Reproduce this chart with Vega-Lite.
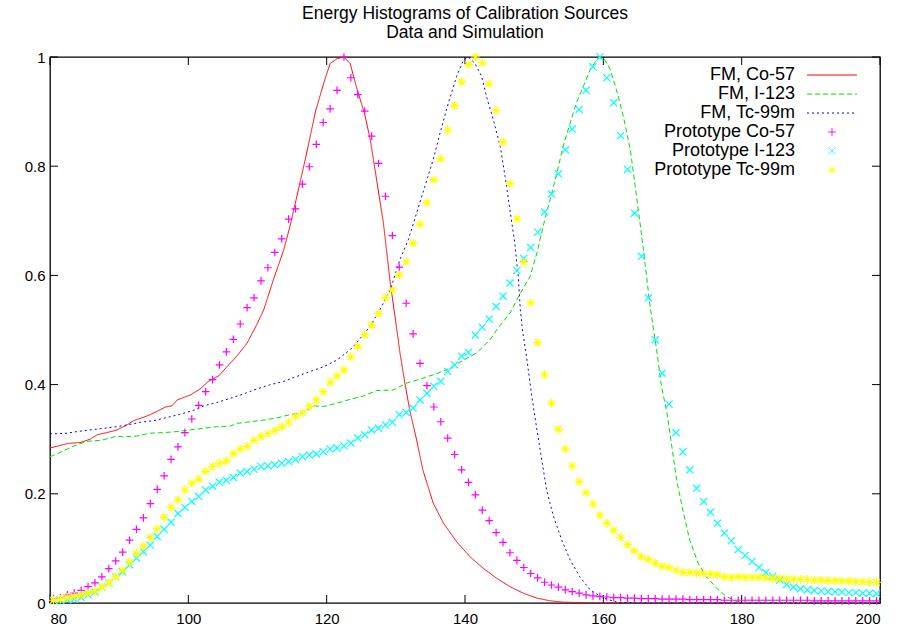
{
  "$schema": "https://vega.github.io/schema/vega-lite/v6.json",
  "width": 830,
  "height": 546,
  "autosize": {"type": "none"},
  "padding": {"left": 50, "top": 57, "right": 19, "bottom": 31},
  "background": "white",
  "title": {
    "text": ["Energy Histograms of Calibration Sources", "Data and Simulation"],
    "font": "Liberation Sans",
    "fontSize": 17.5,
    "fontWeight": "normal",
    "color": "black",
    "anchor": "middle",
    "frame": "group",
    "lineHeight": 19,
    "offset": 8.5
  },
  "config": {
    "view": {"stroke": "black", "strokeWidth": 1.3},
    "axis": {
      "domain": false,
      "grid": false,
      "ticks": false,
      "title": null,
      "labelFont": "Liberation Sans",
      "labelFontSize": 15,
      "labelColor": "black"
    },
    "legend": {
      "labelFont": "Liberation Sans",
      "labelFontSize": 18,
      "labelColor": "black",
      "padding": 0
    }
  },
  "datasets": {
    "xticks": [{"v":80},{"v":100},{"v":120},{"v":140},{"v":160},{"v":180},{"v":200}],
    "yticks": [{"v":0},{"v":0.2},{"v":0.4},{"v":0.6},{"v":0.8},{"v":1}],
    "fm": [
      {"s":"FM, Co-57","x":80,"y":0.284},{"s":"FM, Co-57","x":81,"y":0.287},{"s":"FM, Co-57","x":82.5,"y":0.292},{"s":"FM, Co-57","x":84.4,"y":0.294},{"s":"FM, Co-57","x":85.8,"y":0.300},{"s":"FM, Co-57","x":86.8,"y":0.308},{"s":"FM, Co-57","x":88.2,"y":0.312},{"s":"FM, Co-57","x":89.7,"y":0.317},{"s":"FM, Co-57","x":91.1,"y":0.326},{"s":"FM, Co-57","x":92.1,"y":0.334},{"s":"FM, Co-57","x":93.5,"y":0.340},{"s":"FM, Co-57","x":94.5,"y":0.345},{"s":"FM, Co-57","x":95.5,"y":0.351},{"s":"FM, Co-57","x":96.7,"y":0.359},{"s":"FM, Co-57","x":97.6,"y":0.361},{"s":"FM, Co-57","x":98.4,"y":0.372},{"s":"FM, Co-57","x":100.3,"y":0.381},{"s":"FM, Co-57","x":101.7,"y":0.392},{"s":"FM, Co-57","x":102.9,"y":0.406},{"s":"FM, Co-57","x":104.4,"y":0.416},{"s":"FM, Co-57","x":105.6,"y":0.433},{"s":"FM, Co-57","x":107,"y":0.452},{"s":"FM, Co-57","x":108.5,"y":0.476},{"s":"FM, Co-57","x":109.9,"y":0.510},{"s":"FM, Co-57","x":110.9,"y":0.537},{"s":"FM, Co-57","x":112.3,"y":0.592},{"s":"FM, Co-57","x":113.8,"y":0.647},{"s":"FM, Co-57","x":114.7,"y":0.690},{"s":"FM, Co-57","x":115.7,"y":0.745},{"s":"FM, Co-57","x":116.9,"y":0.812},{"s":"FM, Co-57","x":118.4,"y":0.901},{"s":"FM, Co-57","x":119.6,"y":0.953},{"s":"FM, Co-57","x":120.5,"y":0.988},{"s":"FM, Co-57","x":121.5,"y":0.997},{"s":"FM, Co-57","x":122.5,"y":1.0},{"s":"FM, Co-57","x":123.4,"y":0.988},{"s":"FM, Co-57","x":124.3,"y":0.945},{"s":"FM, Co-57","x":125.5,"y":0.895},{"s":"FM, Co-57","x":126.3,"y":0.849},{"s":"FM, Co-57","x":127.1,"y":0.785},{"s":"FM, Co-57","x":128.2,"y":0.696},{"s":"FM, Co-57","x":129.2,"y":0.586},{"s":"FM, Co-57","x":130.1,"y":0.505},{"s":"FM, Co-57","x":130.6,"y":0.458},{"s":"FM, Co-57","x":131.3,"y":0.403},{"s":"FM, Co-57","x":132,"y":0.354},{"s":"FM, Co-57","x":133,"y":0.299},{"s":"FM, Co-57","x":133.9,"y":0.244},{"s":"FM, Co-57","x":135.4,"y":0.183},{"s":"FM, Co-57","x":136.9,"y":0.146},{"s":"FM, Co-57","x":138.8,"y":0.112},{"s":"FM, Co-57","x":140.7,"y":0.085},{"s":"FM, Co-57","x":142.6,"y":0.064},{"s":"FM, Co-57","x":144.6,"y":0.045},{"s":"FM, Co-57","x":146.5,"y":0.030},{"s":"FM, Co-57","x":148.4,"y":0.018},{"s":"FM, Co-57","x":150.4,"y":0.009},{"s":"FM, Co-57","x":152.3,"y":0.004},{"s":"FM, Co-57","x":154.2,"y":0.0015},{"s":"FM, Co-57","x":158,"y":0.0005},{"s":"FM, Co-57","x":165,"y":0},{"s":"FM, Co-57","x":200,"y":0},
      {"s":"FM, I-123","x":80,"y":0.268},{"s":"FM, I-123","x":81,"y":0.273},{"s":"FM, I-123","x":82.5,"y":0.282},{"s":"FM, I-123","x":83.9,"y":0.290},{"s":"FM, I-123","x":85.3,"y":0.296},{"s":"FM, I-123","x":87.3,"y":0.298},{"s":"FM, I-123","x":88.7,"y":0.302},{"s":"FM, I-123","x":89.7,"y":0.306},{"s":"FM, I-123","x":90.6,"y":0.304},{"s":"FM, I-123","x":92.6,"y":0.306},{"s":"FM, I-123","x":94.5,"y":0.311},{"s":"FM, I-123","x":96.4,"y":0.312},{"s":"FM, I-123","x":98.4,"y":0.314},{"s":"FM, I-123","x":100.3,"y":0.317},{"s":"FM, I-123","x":102.2,"y":0.320},{"s":"FM, I-123","x":104.1,"y":0.323},{"s":"FM, I-123","x":106.1,"y":0.324},{"s":"FM, I-123","x":107,"y":0.329},{"s":"FM, I-123","x":109,"y":0.332},{"s":"FM, I-123","x":110.9,"y":0.335},{"s":"FM, I-123","x":112.8,"y":0.339},{"s":"FM, I-123","x":114.7,"y":0.345},{"s":"FM, I-123","x":116.7,"y":0.349},{"s":"FM, I-123","x":118.1,"y":0.361},{"s":"FM, I-123","x":119.6,"y":0.360},{"s":"FM, I-123","x":121.5,"y":0.366},{"s":"FM, I-123","x":123.4,"y":0.373},{"s":"FM, I-123","x":125.3,"y":0.379},{"s":"FM, I-123","x":127.2,"y":0.389},{"s":"FM, I-123","x":129.6,"y":0.390},{"s":"FM, I-123","x":131.6,"y":0.403},{"s":"FM, I-123","x":133.5,"y":0.410},{"s":"FM, I-123","x":135.9,"y":0.420},{"s":"FM, I-123","x":137.8,"y":0.430},{"s":"FM, I-123","x":139.8,"y":0.445},{"s":"FM, I-123","x":141.7,"y":0.458},{"s":"FM, I-123","x":143.6,"y":0.482},{"s":"FM, I-123","x":144.8,"y":0.504},{"s":"FM, I-123","x":146.5,"y":0.531},{"s":"FM, I-123","x":147.9,"y":0.565},{"s":"FM, I-123","x":149.4,"y":0.598},{"s":"FM, I-123","x":150.4,"y":0.641},{"s":"FM, I-123","x":151.3,"y":0.690},{"s":"FM, I-123","x":152.3,"y":0.739},{"s":"FM, I-123","x":153.3,"y":0.788},{"s":"FM, I-123","x":154.2,"y":0.837},{"s":"FM, I-123","x":155.2,"y":0.879},{"s":"FM, I-123","x":156.1,"y":0.916},{"s":"FM, I-123","x":157.1,"y":0.946},{"s":"FM, I-123","x":158.1,"y":0.977},{"s":"FM, I-123","x":159.3,"y":1.0},{"s":"FM, I-123","x":160.2,"y":0.995},{"s":"FM, I-123","x":161,"y":0.977},{"s":"FM, I-123","x":161.9,"y":0.940},{"s":"FM, I-123","x":162.9,"y":0.891},{"s":"FM, I-123","x":163.9,"y":0.830},{"s":"FM, I-123","x":164.8,"y":0.745},{"s":"FM, I-123","x":165.8,"y":0.647},{"s":"FM, I-123","x":166.7,"y":0.549},{"s":"FM, I-123","x":167.7,"y":0.464},{"s":"FM, I-123","x":168.4,"y":0.397},{"s":"FM, I-123","x":169.2,"y":0.348},{"s":"FM, I-123","x":169.9,"y":0.287},{"s":"FM, I-123","x":170.6,"y":0.225},{"s":"FM, I-123","x":171.6,"y":0.164},{"s":"FM, I-123","x":172.5,"y":0.115},{"s":"FM, I-123","x":173.7,"y":0.073},{"s":"FM, I-123","x":174.9,"y":0.048},{"s":"FM, I-123","x":176.4,"y":0.027},{"s":"FM, I-123","x":177.8,"y":0.012},{"s":"FM, I-123","x":179.3,"y":0.0025},{"s":"FM, I-123","x":181,"y":0},{"s":"FM, I-123","x":200,"y":0},
      {"s":"FM, Tc-99m","x":80,"y":0.310},{"s":"FM, Tc-99m","x":81,"y":0.310},{"s":"FM, Tc-99m","x":82.5,"y":0.311},{"s":"FM, Tc-99m","x":83.9,"y":0.314},{"s":"FM, Tc-99m","x":85.8,"y":0.317},{"s":"FM, Tc-99m","x":87.8,"y":0.320},{"s":"FM, Tc-99m","x":89.7,"y":0.323},{"s":"FM, Tc-99m","x":91.1,"y":0.326},{"s":"FM, Tc-99m","x":93.1,"y":0.331},{"s":"FM, Tc-99m","x":95,"y":0.334},{"s":"FM, Tc-99m","x":97,"y":0.340},{"s":"FM, Tc-99m","x":98.9,"y":0.346},{"s":"FM, Tc-99m","x":100.8,"y":0.353},{"s":"FM, Tc-99m","x":102.2,"y":0.361},{"s":"FM, Tc-99m","x":104.1,"y":0.367},{"s":"FM, Tc-99m","x":106.1,"y":0.375},{"s":"FM, Tc-99m","x":108,"y":0.383},{"s":"FM, Tc-99m","x":109.9,"y":0.392},{"s":"FM, Tc-99m","x":111.9,"y":0.400},{"s":"FM, Tc-99m","x":113.8,"y":0.406},{"s":"FM, Tc-99m","x":115.7,"y":0.415},{"s":"FM, Tc-99m","x":117.6,"y":0.424},{"s":"FM, Tc-99m","x":119.6,"y":0.433},{"s":"FM, Tc-99m","x":121.5,"y":0.445},{"s":"FM, Tc-99m","x":123.4,"y":0.464},{"s":"FM, Tc-99m","x":124.3,"y":0.476},{"s":"FM, Tc-99m","x":126.3,"y":0.507},{"s":"FM, Tc-99m","x":127.7,"y":0.537},{"s":"FM, Tc-99m","x":129.2,"y":0.574},{"s":"FM, Tc-99m","x":130.6,"y":0.629},{"s":"FM, Tc-99m","x":131.8,"y":0.665},{"s":"FM, Tc-99m","x":133,"y":0.714},{"s":"FM, Tc-99m","x":134.2,"y":0.763},{"s":"FM, Tc-99m","x":135.4,"y":0.812},{"s":"FM, Tc-99m","x":136.4,"y":0.861},{"s":"FM, Tc-99m","x":137.6,"y":0.916},{"s":"FM, Tc-99m","x":138.8,"y":0.965},{"s":"FM, Tc-99m","x":139.8,"y":0.995},{"s":"FM, Tc-99m","x":140.5,"y":1.0},{"s":"FM, Tc-99m","x":141.4,"y":0.989},{"s":"FM, Tc-99m","x":142.4,"y":0.965},{"s":"FM, Tc-99m","x":143.1,"y":0.928},{"s":"FM, Tc-99m","x":144.1,"y":0.885},{"s":"FM, Tc-99m","x":145.1,"y":0.836},{"s":"FM, Tc-99m","x":145.8,"y":0.781},{"s":"FM, Tc-99m","x":146.5,"y":0.720},{"s":"FM, Tc-99m","x":147.2,"y":0.659},{"s":"FM, Tc-99m","x":147.7,"y":0.598},{"s":"FM, Tc-99m","x":148,"y":0.537},{"s":"FM, Tc-99m","x":148.3,"y":0.500},{"s":"FM, Tc-99m","x":148.9,"y":0.451},{"s":"FM, Tc-99m","x":149.6,"y":0.384},{"s":"FM, Tc-99m","x":150.4,"y":0.317},{"s":"FM, Tc-99m","x":151.1,"y":0.262},{"s":"FM, Tc-99m","x":151.8,"y":0.207},{"s":"FM, Tc-99m","x":152.8,"y":0.158},{"s":"FM, Tc-99m","x":154,"y":0.115},{"s":"FM, Tc-99m","x":155.2,"y":0.079},{"s":"FM, Tc-99m","x":156.6,"y":0.048},{"s":"FM, Tc-99m","x":158.1,"y":0.024},{"s":"FM, Tc-99m","x":160,"y":0.009},{"s":"FM, Tc-99m","x":162,"y":0.0015},{"s":"FM, Tc-99m","x":165,"y":0},{"s":"FM, Tc-99m","x":200,"y":0}
    ],
    "proto": [
      {"s":"Prototype Co-57","x":80.5,"y":0.008},{"s":"Prototype Co-57","x":81.5,"y":0.010},{"s":"Prototype Co-57","x":82.5,"y":0.015},{"s":"Prototype Co-57","x":83.5,"y":0.018},{"s":"Prototype Co-57","x":84.5,"y":0.023},{"s":"Prototype Co-57","x":85.5,"y":0.030},{"s":"Prototype Co-57","x":86.5,"y":0.037},{"s":"Prototype Co-57","x":87.5,"y":0.048},{"s":"Prototype Co-57","x":88.5,"y":0.063},{"s":"Prototype Co-57","x":89.5,"y":0.077},{"s":"Prototype Co-57","x":90.5,"y":0.093},{"s":"Prototype Co-57","x":91.5,"y":0.115},{"s":"Prototype Co-57","x":92.5,"y":0.135},{"s":"Prototype Co-57","x":93.5,"y":0.156},{"s":"Prototype Co-57","x":94.5,"y":0.182},{"s":"Prototype Co-57","x":95.5,"y":0.208},{"s":"Prototype Co-57","x":96.5,"y":0.233},{"s":"Prototype Co-57","x":97.5,"y":0.263},{"s":"Prototype Co-57","x":98.5,"y":0.286},{"s":"Prototype Co-57","x":99.5,"y":0.312},{"s":"Prototype Co-57","x":100.5,"y":0.337},{"s":"Prototype Co-57","x":101.5,"y":0.362},{"s":"Prototype Co-57","x":102.5,"y":0.387},{"s":"Prototype Co-57","x":103.5,"y":0.409},{"s":"Prototype Co-57","x":104.5,"y":0.436},{"s":"Prototype Co-57","x":105.5,"y":0.460},{"s":"Prototype Co-57","x":106.5,"y":0.483},{"s":"Prototype Co-57","x":107.5,"y":0.511},{"s":"Prototype Co-57","x":108.5,"y":0.541},{"s":"Prototype Co-57","x":109.5,"y":0.559},{"s":"Prototype Co-57","x":110.5,"y":0.590},{"s":"Prototype Co-57","x":111.5,"y":0.614},{"s":"Prototype Co-57","x":112.5,"y":0.642},{"s":"Prototype Co-57","x":113.5,"y":0.667},{"s":"Prototype Co-57","x":114.5,"y":0.703},{"s":"Prototype Co-57","x":115.5,"y":0.722},{"s":"Prototype Co-57","x":116.5,"y":0.767},{"s":"Prototype Co-57","x":117.5,"y":0.799},{"s":"Prototype Co-57","x":118.5,"y":0.840},{"s":"Prototype Co-57","x":119.5,"y":0.880},{"s":"Prototype Co-57","x":120.5,"y":0.905},{"s":"Prototype Co-57","x":121.5,"y":0.939},{"s":"Prototype Co-57","x":122.5,"y":1.0},{"s":"Prototype Co-57","x":123.5,"y":0.962},{"s":"Prototype Co-57","x":124.5,"y":0.931},{"s":"Prototype Co-57","x":125.5,"y":0.901},{"s":"Prototype Co-57","x":126.5,"y":0.855},{"s":"Prototype Co-57","x":127.5,"y":0.805},{"s":"Prototype Co-57","x":128.5,"y":0.745},{"s":"Prototype Co-57","x":129.5,"y":0.673},{"s":"Prototype Co-57","x":130.5,"y":0.615},{"s":"Prototype Co-57","x":131.5,"y":0.549},{"s":"Prototype Co-57","x":132.5,"y":0.493},{"s":"Prototype Co-57","x":133.5,"y":0.439},{"s":"Prototype Co-57","x":134.5,"y":0.398},{"s":"Prototype Co-57","x":135.5,"y":0.359},{"s":"Prototype Co-57","x":136.5,"y":0.332},{"s":"Prototype Co-57","x":137.5,"y":0.302},{"s":"Prototype Co-57","x":138.5,"y":0.272},{"s":"Prototype Co-57","x":139.5,"y":0.244},{"s":"Prototype Co-57","x":140.5,"y":0.221},{"s":"Prototype Co-57","x":141.5,"y":0.198},{"s":"Prototype Co-57","x":142.5,"y":0.170},{"s":"Prototype Co-57","x":143.5,"y":0.151},{"s":"Prototype Co-57","x":144.5,"y":0.129},{"s":"Prototype Co-57","x":145.5,"y":0.111},{"s":"Prototype Co-57","x":146.5,"y":0.092},{"s":"Prototype Co-57","x":147.5,"y":0.078},{"s":"Prototype Co-57","x":148.5,"y":0.065},{"s":"Prototype Co-57","x":149.5,"y":0.054},{"s":"Prototype Co-57","x":150.5,"y":0.046},{"s":"Prototype Co-57","x":151.5,"y":0.038},{"s":"Prototype Co-57","x":152.5,"y":0.033},{"s":"Prototype Co-57","x":153.5,"y":0.029},{"s":"Prototype Co-57","x":154.5,"y":0.024},{"s":"Prototype Co-57","x":155.5,"y":0.021},{"s":"Prototype Co-57","x":156.5,"y":0.018},{"s":"Prototype Co-57","x":157.5,"y":0.015},{"s":"Prototype Co-57","x":158.5,"y":0.013},{"s":"Prototype Co-57","x":159.5,"y":0.012},{"s":"Prototype Co-57","x":160.5,"y":0.011},{"s":"Prototype Co-57","x":161.5,"y":0.010},{"s":"Prototype Co-57","x":162.5,"y":0.010},{"s":"Prototype Co-57","x":163.5,"y":0.009},{"s":"Prototype Co-57","x":164.5,"y":0.009},{"s":"Prototype Co-57","x":165.5,"y":0.008},{"s":"Prototype Co-57","x":166.5,"y":0.008},{"s":"Prototype Co-57","x":167.5,"y":0.008},{"s":"Prototype Co-57","x":168.5,"y":0.007},{"s":"Prototype Co-57","x":169.5,"y":0.007},{"s":"Prototype Co-57","x":170.5,"y":0.007},{"s":"Prototype Co-57","x":171.5,"y":0.007},{"s":"Prototype Co-57","x":172.5,"y":0.006},{"s":"Prototype Co-57","x":173.5,"y":0.006},{"s":"Prototype Co-57","x":174.5,"y":0.006},{"s":"Prototype Co-57","x":175.5,"y":0.006},{"s":"Prototype Co-57","x":176.5,"y":0.006},{"s":"Prototype Co-57","x":177.5,"y":0.005},{"s":"Prototype Co-57","x":178.5,"y":0.005},{"s":"Prototype Co-57","x":179.5,"y":0.005},{"s":"Prototype Co-57","x":180.5,"y":0.005},{"s":"Prototype Co-57","x":181.5,"y":0.005},{"s":"Prototype Co-57","x":182.5,"y":0.005},{"s":"Prototype Co-57","x":183.5,"y":0.005},{"s":"Prototype Co-57","x":184.5,"y":0.005},{"s":"Prototype Co-57","x":185.5,"y":0.005},{"s":"Prototype Co-57","x":186.5,"y":0.005},{"s":"Prototype Co-57","x":187.5,"y":0.005},{"s":"Prototype Co-57","x":188.5,"y":0.005},{"s":"Prototype Co-57","x":189.5,"y":0.005},{"s":"Prototype Co-57","x":190.5,"y":0.004},{"s":"Prototype Co-57","x":191.5,"y":0.004},{"s":"Prototype Co-57","x":192.5,"y":0.004},{"s":"Prototype Co-57","x":193.5,"y":0.004},{"s":"Prototype Co-57","x":194.5,"y":0.004},{"s":"Prototype Co-57","x":195.5,"y":0.004},{"s":"Prototype Co-57","x":196.5,"y":0.004},{"s":"Prototype Co-57","x":197.5,"y":0.004},{"s":"Prototype Co-57","x":198.5,"y":0.004},{"s":"Prototype Co-57","x":199.5,"y":0.004},
      {"s":"Prototype I-123","x":80.5,"y":0.005},{"s":"Prototype I-123","x":81.5,"y":0.005},{"s":"Prototype I-123","x":82.5,"y":0.006},{"s":"Prototype I-123","x":83.5,"y":0.007},{"s":"Prototype I-123","x":84.5,"y":0.010},{"s":"Prototype I-123","x":85.5,"y":0.015},{"s":"Prototype I-123","x":86.5,"y":0.020},{"s":"Prototype I-123","x":87.5,"y":0.029},{"s":"Prototype I-123","x":88.5,"y":0.037},{"s":"Prototype I-123","x":89.5,"y":0.048},{"s":"Prototype I-123","x":90.5,"y":0.057},{"s":"Prototype I-123","x":91.5,"y":0.070},{"s":"Prototype I-123","x":92.5,"y":0.082},{"s":"Prototype I-123","x":93.5,"y":0.094},{"s":"Prototype I-123","x":94.5,"y":0.106},{"s":"Prototype I-123","x":95.5,"y":0.122},{"s":"Prototype I-123","x":96.5,"y":0.135},{"s":"Prototype I-123","x":97.5,"y":0.148},{"s":"Prototype I-123","x":98.5,"y":0.164},{"s":"Prototype I-123","x":99.5,"y":0.175},{"s":"Prototype I-123","x":100.5,"y":0.186},{"s":"Prototype I-123","x":101.5,"y":0.195},{"s":"Prototype I-123","x":102.5,"y":0.207},{"s":"Prototype I-123","x":103.5,"y":0.214},{"s":"Prototype I-123","x":104.5,"y":0.221},{"s":"Prototype I-123","x":105.5,"y":0.225},{"s":"Prototype I-123","x":106.5,"y":0.230},{"s":"Prototype I-123","x":107.5,"y":0.238},{"s":"Prototype I-123","x":108.5,"y":0.241},{"s":"Prototype I-123","x":109.5,"y":0.245},{"s":"Prototype I-123","x":110.5,"y":0.250},{"s":"Prototype I-123","x":111.5,"y":0.251},{"s":"Prototype I-123","x":112.5,"y":0.253},{"s":"Prototype I-123","x":113.5,"y":0.256},{"s":"Prototype I-123","x":114.5,"y":0.259},{"s":"Prototype I-123","x":115.5,"y":0.263},{"s":"Prototype I-123","x":116.5,"y":0.268},{"s":"Prototype I-123","x":117.5,"y":0.271},{"s":"Prototype I-123","x":118.5,"y":0.273},{"s":"Prototype I-123","x":119.5,"y":0.277},{"s":"Prototype I-123","x":120.5,"y":0.282},{"s":"Prototype I-123","x":121.5,"y":0.284},{"s":"Prototype I-123","x":122.5,"y":0.288},{"s":"Prototype I-123","x":123.5,"y":0.293},{"s":"Prototype I-123","x":124.5,"y":0.302},{"s":"Prototype I-123","x":125.5,"y":0.308},{"s":"Prototype I-123","x":126.5,"y":0.317},{"s":"Prototype I-123","x":127.5,"y":0.320},{"s":"Prototype I-123","x":128.5,"y":0.326},{"s":"Prototype I-123","x":129.5,"y":0.331},{"s":"Prototype I-123","x":130.5,"y":0.345},{"s":"Prototype I-123","x":131.5,"y":0.349},{"s":"Prototype I-123","x":132.5,"y":0.357},{"s":"Prototype I-123","x":133.5,"y":0.372},{"s":"Prototype I-123","x":134.5,"y":0.384},{"s":"Prototype I-123","x":135.5,"y":0.397},{"s":"Prototype I-123","x":136.5,"y":0.406},{"s":"Prototype I-123","x":137.5,"y":0.424},{"s":"Prototype I-123","x":138.5,"y":0.436},{"s":"Prototype I-123","x":139.5,"y":0.452},{"s":"Prototype I-123","x":140.5,"y":0.459},{"s":"Prototype I-123","x":141.5,"y":0.491},{"s":"Prototype I-123","x":142.5,"y":0.505},{"s":"Prototype I-123","x":143.5,"y":0.520},{"s":"Prototype I-123","x":144.5,"y":0.543},{"s":"Prototype I-123","x":145.5,"y":0.562},{"s":"Prototype I-123","x":146.5,"y":0.586},{"s":"Prototype I-123","x":147.5,"y":0.609},{"s":"Prototype I-123","x":148.5,"y":0.631},{"s":"Prototype I-123","x":149.5,"y":0.651},{"s":"Prototype I-123","x":150.5,"y":0.679},{"s":"Prototype I-123","x":151.5,"y":0.716},{"s":"Prototype I-123","x":152.5,"y":0.749},{"s":"Prototype I-123","x":153.5,"y":0.786},{"s":"Prototype I-123","x":154.5,"y":0.830},{"s":"Prototype I-123","x":155.5,"y":0.868},{"s":"Prototype I-123","x":156.5,"y":0.904},{"s":"Prototype I-123","x":157.5,"y":0.939},{"s":"Prototype I-123","x":158.5,"y":0.982},{"s":"Prototype I-123","x":159.5,"y":1.0},{"s":"Prototype I-123","x":160.5,"y":0.962},{"s":"Prototype I-123","x":161.5,"y":0.916},{"s":"Prototype I-123","x":162.5,"y":0.856},{"s":"Prototype I-123","x":163.5,"y":0.794},{"s":"Prototype I-123","x":164.5,"y":0.714},{"s":"Prototype I-123","x":165.5,"y":0.635},{"s":"Prototype I-123","x":166.5,"y":0.559},{"s":"Prototype I-123","x":167.5,"y":0.482},{"s":"Prototype I-123","x":168.5,"y":0.421},{"s":"Prototype I-123","x":169.5,"y":0.364},{"s":"Prototype I-123","x":170.5,"y":0.312},{"s":"Prototype I-123","x":171.5,"y":0.277},{"s":"Prototype I-123","x":172.5,"y":0.244},{"s":"Prototype I-123","x":173.5,"y":0.210},{"s":"Prototype I-123","x":174.5,"y":0.186},{"s":"Prototype I-123","x":175.5,"y":0.166},{"s":"Prototype I-123","x":176.5,"y":0.146},{"s":"Prototype I-123","x":177.5,"y":0.128},{"s":"Prototype I-123","x":178.5,"y":0.114},{"s":"Prototype I-123","x":179.5,"y":0.098},{"s":"Prototype I-123","x":180.5,"y":0.087},{"s":"Prototype I-123","x":181.5,"y":0.076},{"s":"Prototype I-123","x":182.5,"y":0.065},{"s":"Prototype I-123","x":183.5,"y":0.056},{"s":"Prototype I-123","x":184.5,"y":0.049},{"s":"Prototype I-123","x":185.5,"y":0.042},{"s":"Prototype I-123","x":186.5,"y":0.034},{"s":"Prototype I-123","x":187.5,"y":0.029},{"s":"Prototype I-123","x":188.5,"y":0.026},{"s":"Prototype I-123","x":189.5,"y":0.024},{"s":"Prototype I-123","x":190.5,"y":0.023},{"s":"Prototype I-123","x":191.5,"y":0.022},{"s":"Prototype I-123","x":192.5,"y":0.021},{"s":"Prototype I-123","x":193.5,"y":0.020},{"s":"Prototype I-123","x":194.5,"y":0.020},{"s":"Prototype I-123","x":195.5,"y":0.019},{"s":"Prototype I-123","x":196.5,"y":0.019},{"s":"Prototype I-123","x":197.5,"y":0.018},{"s":"Prototype I-123","x":198.5,"y":0.018},{"s":"Prototype I-123","x":199.5,"y":0.017},
      {"s":"Prototype Tc-99m","x":80.5,"y":0.005},{"s":"Prototype Tc-99m","x":81.5,"y":0.007},{"s":"Prototype Tc-99m","x":82.5,"y":0.010},{"s":"Prototype Tc-99m","x":83.5,"y":0.012},{"s":"Prototype Tc-99m","x":84.5,"y":0.015},{"s":"Prototype Tc-99m","x":85.5,"y":0.018},{"s":"Prototype Tc-99m","x":86.5,"y":0.022},{"s":"Prototype Tc-99m","x":87.5,"y":0.029},{"s":"Prototype Tc-99m","x":88.5,"y":0.037},{"s":"Prototype Tc-99m","x":89.5,"y":0.048},{"s":"Prototype Tc-99m","x":90.5,"y":0.060},{"s":"Prototype Tc-99m","x":91.5,"y":0.075},{"s":"Prototype Tc-99m","x":92.5,"y":0.091},{"s":"Prototype Tc-99m","x":93.5,"y":0.104},{"s":"Prototype Tc-99m","x":94.5,"y":0.120},{"s":"Prototype Tc-99m","x":95.5,"y":0.136},{"s":"Prototype Tc-99m","x":96.5,"y":0.157},{"s":"Prototype Tc-99m","x":97.5,"y":0.175},{"s":"Prototype Tc-99m","x":98.5,"y":0.189},{"s":"Prototype Tc-99m","x":99.5,"y":0.207},{"s":"Prototype Tc-99m","x":100.5,"y":0.219},{"s":"Prototype Tc-99m","x":101.5,"y":0.227},{"s":"Prototype Tc-99m","x":102.5,"y":0.241},{"s":"Prototype Tc-99m","x":103.5,"y":0.250},{"s":"Prototype Tc-99m","x":104.5,"y":0.256},{"s":"Prototype Tc-99m","x":105.5,"y":0.260},{"s":"Prototype Tc-99m","x":106.5,"y":0.273},{"s":"Prototype Tc-99m","x":107.5,"y":0.282},{"s":"Prototype Tc-99m","x":108.5,"y":0.287},{"s":"Prototype Tc-99m","x":109.5,"y":0.298},{"s":"Prototype Tc-99m","x":110.5,"y":0.305},{"s":"Prototype Tc-99m","x":111.5,"y":0.310},{"s":"Prototype Tc-99m","x":112.5,"y":0.316},{"s":"Prototype Tc-99m","x":113.5,"y":0.323},{"s":"Prototype Tc-99m","x":114.5,"y":0.331},{"s":"Prototype Tc-99m","x":115.5,"y":0.342},{"s":"Prototype Tc-99m","x":116.5,"y":0.348},{"s":"Prototype Tc-99m","x":117.5,"y":0.360},{"s":"Prototype Tc-99m","x":118.5,"y":0.372},{"s":"Prototype Tc-99m","x":119.5,"y":0.387},{"s":"Prototype Tc-99m","x":120.5,"y":0.404},{"s":"Prototype Tc-99m","x":121.5,"y":0.416},{"s":"Prototype Tc-99m","x":122.5,"y":0.427},{"s":"Prototype Tc-99m","x":123.5,"y":0.451},{"s":"Prototype Tc-99m","x":124.5,"y":0.470},{"s":"Prototype Tc-99m","x":125.5,"y":0.491},{"s":"Prototype Tc-99m","x":126.5,"y":0.509},{"s":"Prototype Tc-99m","x":127.5,"y":0.530},{"s":"Prototype Tc-99m","x":128.5,"y":0.559},{"s":"Prototype Tc-99m","x":129.5,"y":0.573},{"s":"Prototype Tc-99m","x":130.5,"y":0.601},{"s":"Prototype Tc-99m","x":131.5,"y":0.625},{"s":"Prototype Tc-99m","x":132.5,"y":0.659},{"s":"Prototype Tc-99m","x":133.5,"y":0.694},{"s":"Prototype Tc-99m","x":134.5,"y":0.733},{"s":"Prototype Tc-99m","x":135.5,"y":0.775},{"s":"Prototype Tc-99m","x":136.5,"y":0.814},{"s":"Prototype Tc-99m","x":137.5,"y":0.866},{"s":"Prototype Tc-99m","x":138.5,"y":0.911},{"s":"Prototype Tc-99m","x":139.5,"y":0.955},{"s":"Prototype Tc-99m","x":140.5,"y":0.986},{"s":"Prototype Tc-99m","x":141.5,"y":1.0},{"s":"Prototype Tc-99m","x":142.5,"y":0.989},{"s":"Prototype Tc-99m","x":143.5,"y":0.951},{"s":"Prototype Tc-99m","x":144.5,"y":0.902},{"s":"Prototype Tc-99m","x":145.5,"y":0.844},{"s":"Prototype Tc-99m","x":146.5,"y":0.768},{"s":"Prototype Tc-99m","x":147.5,"y":0.703},{"s":"Prototype Tc-99m","x":148.5,"y":0.624},{"s":"Prototype Tc-99m","x":149.5,"y":0.550},{"s":"Prototype Tc-99m","x":150.5,"y":0.477},{"s":"Prototype Tc-99m","x":151.5,"y":0.418},{"s":"Prototype Tc-99m","x":152.5,"y":0.366},{"s":"Prototype Tc-99m","x":153.5,"y":0.318},{"s":"Prototype Tc-99m","x":154.5,"y":0.282},{"s":"Prototype Tc-99m","x":155.5,"y":0.251},{"s":"Prototype Tc-99m","x":156.5,"y":0.222},{"s":"Prototype Tc-99m","x":157.5,"y":0.202},{"s":"Prototype Tc-99m","x":158.5,"y":0.181},{"s":"Prototype Tc-99m","x":159.5,"y":0.161},{"s":"Prototype Tc-99m","x":160.5,"y":0.146},{"s":"Prototype Tc-99m","x":161.5,"y":0.133},{"s":"Prototype Tc-99m","x":162.5,"y":0.120},{"s":"Prototype Tc-99m","x":163.5,"y":0.107},{"s":"Prototype Tc-99m","x":164.5,"y":0.095},{"s":"Prototype Tc-99m","x":165.5,"y":0.085},{"s":"Prototype Tc-99m","x":166.5,"y":0.080},{"s":"Prototype Tc-99m","x":167.5,"y":0.073},{"s":"Prototype Tc-99m","x":168.5,"y":0.067},{"s":"Prototype Tc-99m","x":169.5,"y":0.065},{"s":"Prototype Tc-99m","x":170.5,"y":0.060},{"s":"Prototype Tc-99m","x":171.5,"y":0.056},{"s":"Prototype Tc-99m","x":172.5,"y":0.056},{"s":"Prototype Tc-99m","x":173.5,"y":0.055},{"s":"Prototype Tc-99m","x":174.5,"y":0.054},{"s":"Prototype Tc-99m","x":175.5,"y":0.053},{"s":"Prototype Tc-99m","x":176.5,"y":0.052},{"s":"Prototype Tc-99m","x":177.5,"y":0.048},{"s":"Prototype Tc-99m","x":178.5,"y":0.047},{"s":"Prototype Tc-99m","x":179.5,"y":0.048},{"s":"Prototype Tc-99m","x":180.5,"y":0.047},{"s":"Prototype Tc-99m","x":181.5,"y":0.047},{"s":"Prototype Tc-99m","x":182.5,"y":0.047},{"s":"Prototype Tc-99m","x":183.5,"y":0.046},{"s":"Prototype Tc-99m","x":184.5,"y":0.045},{"s":"Prototype Tc-99m","x":185.5,"y":0.045},{"s":"Prototype Tc-99m","x":186.5,"y":0.044},{"s":"Prototype Tc-99m","x":187.5,"y":0.044},{"s":"Prototype Tc-99m","x":188.5,"y":0.043},{"s":"Prototype Tc-99m","x":189.5,"y":0.043},{"s":"Prototype Tc-99m","x":190.5,"y":0.042},{"s":"Prototype Tc-99m","x":191.5,"y":0.042},{"s":"Prototype Tc-99m","x":192.5,"y":0.041},{"s":"Prototype Tc-99m","x":193.5,"y":0.041},{"s":"Prototype Tc-99m","x":194.5,"y":0.040},{"s":"Prototype Tc-99m","x":195.5,"y":0.040},{"s":"Prototype Tc-99m","x":196.5,"y":0.039},{"s":"Prototype Tc-99m","x":197.5,"y":0.039},{"s":"Prototype Tc-99m","x":198.5,"y":0.038},{"s":"Prototype Tc-99m","x":199.5,"y":0.038}
    ]
  },
  "layer": [
    {
      "data": {"name": "xticks"},
      "mark": {"type": "point", "shape": "M0,0V-2", "size": 64, "filled": false, "color": "black", "strokeWidth": 1, "opacity": 1},
      "encoding": {
        "x": {"field": "v", "type": "quantitative", "title": null},
        "y": {"datum": 0, "type": "quantitative", "title": null}
      }
    },
    {
      "data": {"name": "xticks"},
      "mark": {"type": "point", "shape": "M0,0V2", "size": 64, "filled": false, "color": "black", "strokeWidth": 1, "opacity": 1},
      "encoding": {
        "x": {"field": "v", "type": "quantitative", "title": null},
        "y": {"datum": 1, "type": "quantitative", "title": null}
      }
    },
    {
      "data": {"name": "yticks"},
      "mark": {"type": "point", "shape": "M0,0H2", "size": 64, "filled": false, "color": "black", "strokeWidth": 1, "opacity": 1},
      "encoding": {
        "y": {"field": "v", "type": "quantitative", "title": null},
        "x": {"datum": 80, "type": "quantitative", "title": null}
      }
    },
    {
      "data": {"name": "yticks"},
      "mark": {"type": "point", "shape": "M0,0H-2", "size": 64, "filled": false, "color": "black", "strokeWidth": 1, "opacity": 1},
      "encoding": {
        "y": {"field": "v", "type": "quantitative", "title": null},
        "x": {"datum": 200, "type": "quantitative", "title": null}
      }
    },
    {
      "data": {"name": "fm"},
      "mark": {"type": "line", "strokeWidth": 1, "clip": true},
      "encoding": {
        "x": {"field": "x", "type": "quantitative", "title": null, "scale": {"domain": [80, 200], "nice": false, "zero": false},
              "axis": {"orient": "bottom", "title": null, "values": [80, 100, 120, 140, 160, 180, 200], "labelPadding": 8}},
        "y": {"field": "y", "type": "quantitative", "title": null, "scale": {"domain": [0, 1], "nice": false},
              "axis": {"orient": "left", "title": null, "values": [0, 0.2, 0.4, 0.6, 0.8, 1], "format": ".1~f", "labelPadding": 5}},
        "color": {"field": "s", "type": "nominal",
          "scale": {"domain": ["FM, Co-57", "FM, I-123", "FM, Tc-99m", "Prototype Co-57", "Prototype I-123", "Prototype Tc-99m"],
                    "range": ["#ff0000", "#00e000", "#0000ff", "#ff00ff", "#00ffff", "#ffff00"]},
          "legend": {"title": null, "orient": "none", "legendX": 773, "legendY": 9, "labelAlign": "right", "labelOffset": -46, "symbolSize": 289, "symbolStrokeWidth": 1, "rowPadding": 1.0}},
        "strokeDash": {"field": "s", "type": "nominal",
          "scale": {"domain": ["FM, Co-57", "FM, I-123", "FM, Tc-99m", "Prototype Co-57", "Prototype I-123", "Prototype Tc-99m"],
                    "range": [[1, 0], [5, 3], [2, 3], [1, 0], [1, 0], [1, 0]]},
          "legend": {"title": null, "orient": "none", "legendX": 773, "legendY": 9, "labelAlign": "right", "labelOffset": -46, "symbolSize": 289, "symbolStrokeWidth": 1, "rowPadding": 1.0}}
      }
    },
    {
      "data": {"name": "proto"},
      "mark": {"type": "point", "filled": false, "strokeWidth": 1.2, "opacity": 1, "size": 289},
      "encoding": {
        "x": {"field": "x", "type": "quantitative", "title": null},
        "y": {"field": "y", "type": "quantitative", "title": null},
        "color": {"field": "s", "type": "nominal"},
        "shape": {"field": "s", "type": "nominal",
          "scale": {"domain": ["FM, Co-57", "FM, I-123", "FM, Tc-99m", "Prototype Co-57", "Prototype I-123", "Prototype Tc-99m"],
                    "range": ["M-2.94,0H2.94", "M-2.94,0H2.94", "M-2.94,0H2.94", "M-0.45,0H0.45M0,-0.45V0.45", "M-0.42,-0.42L0.42,0.42M0.42,-0.42L-0.42,0.42", "M-0.52,0H0.52M0,-0.52V0.52M-0.37,-0.37L0.37,0.37M0.37,-0.37L-0.37,0.37"]},
          "legend": {"title": null, "orient": "none", "legendX": 773, "legendY": 9, "labelAlign": "right", "labelOffset": -46, "symbolSize": 289, "symbolStrokeWidth": 1, "rowPadding": 1.0}}
      }
    }
  ]
}
